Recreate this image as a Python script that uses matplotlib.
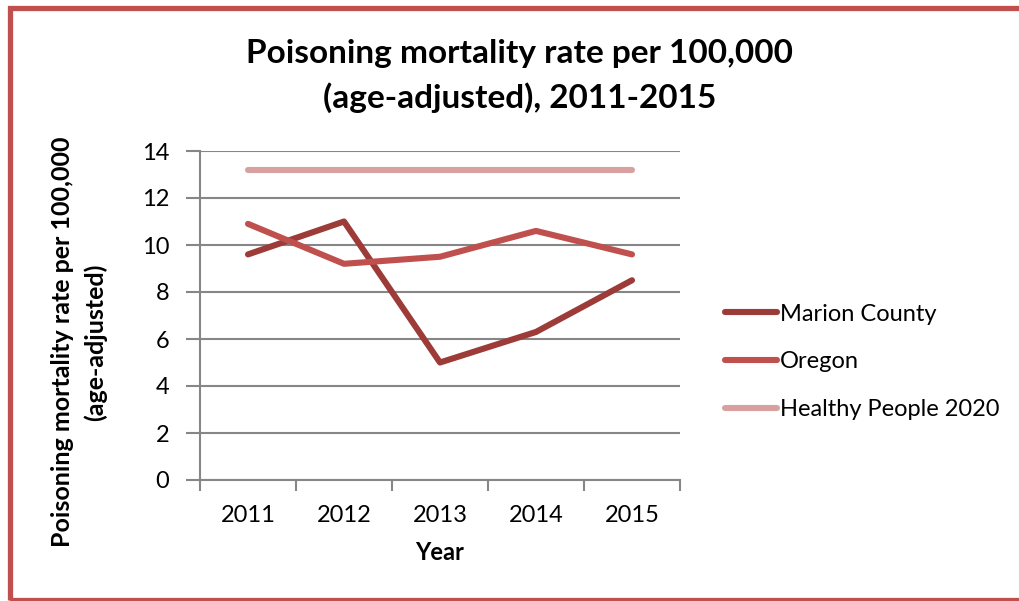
import matplotlib
matplotlib.use("Agg")
import matplotlib.pyplot as plt
from matplotlib.patches import Rectangle

years = ["2011", "2012", "2013", "2014", "2015"]
marion = [9.6, 11.0, 5.0, 6.3, 8.5]
oregon = [10.9, 9.2, 9.5, 10.6, 9.6]
hp2020 = [13.2, 13.2, 13.2, 13.2, 13.2]
series_names = ["Marion County", "Oregon", "Healthy People 2020"]
colors = ["#9C3B38", "#C0504D", "#D9A0A0"]
yticks = [0, 2, 4, 6, 8, 10, 12, 14]

plt.rcParams['font.family'] = ['Lato', 'DejaVu Sans']

W, H = 1020, 601
fig = plt.figure(figsize=(W / 100, H / 100), dpi=100)
ax = fig.add_axes([200 / W, (H - 480) / H, 480 / W, (480 - 151) / H])

x = list(range(len(years)))
for vals, name, c in zip([marion, oregon, hp2020], series_names, colors):
    ax.plot(x, vals, color=c, lw=4.4, solid_capstyle='round', label=name, zorder=3)

ax.set_xlim(-0.5, len(years) - 0.5)
ax.set_ylim(0, 14)
ax.set_yticks(yticks)
ax.set_yticklabels([str(v) for v in yticks], fontsize=17)
ax.set_xticks(x)
ax.set_xticklabels(years, fontsize=17)
ax.set_xticks([i - 0.5 for i in range(len(years) + 1)], minor=True)
ax.tick_params(axis='x', which='major', length=0, pad=18)
ax.tick_params(axis='x', which='minor', length=8, color='#868686', width=1.5)
ax.tick_params(axis='y', length=10, color='#868686', width=1.5, pad=12)

ax.grid(axis='y', color='#868686', lw=1.5, zorder=0)
for s in ['top', 'right']:
    ax.spines[s].set_visible(False)
for s in ['left', 'bottom']:
    ax.spines[s].set_color('#868686')
    ax.spines[s].set_linewidth(1.5)

ax.set_xlabel("Year", fontsize=17, fontweight='bold', labelpad=11)

fig.text(63 / W, 1 - 342 / H, "Poisoning mortality rate per 100,000", rotation=90,
         ha='center', va='center', fontsize=18, fontweight='bold')
fig.text(95 / W, 1 - 342 / H, "(age-adjusted)", rotation=90,
         ha='center', va='center', fontsize=18, fontweight='bold')

fig.text(520 / W, 1 - 63 / H, "Poisoning mortality rate per 100,000",
         ha='center', va='baseline', fontsize=24, fontweight='bold')
fig.text(520 / W, 1 - 108 / H, "(age-adjusted), 2011-2015",
         ha='center', va='baseline', fontsize=24, fontweight='bold')

leg = ax.legend(loc='center left', bbox_to_anchor=(713 / W, 1 - 362 / H),
                bbox_transform=fig.transFigure, frameon=False, fontsize=17,
                handlelength=2.2, handletextpad=0.15, labelspacing=1.14, borderpad=0)

fig.patches.append(Rectangle((10 / W, 1.5 / H), 1.2, (H - 9) / H, transform=fig.transFigure,
                             fill=False, edgecolor='#C0504D', lw=3.8))

fig.savefig("out.png", dpi=100)
